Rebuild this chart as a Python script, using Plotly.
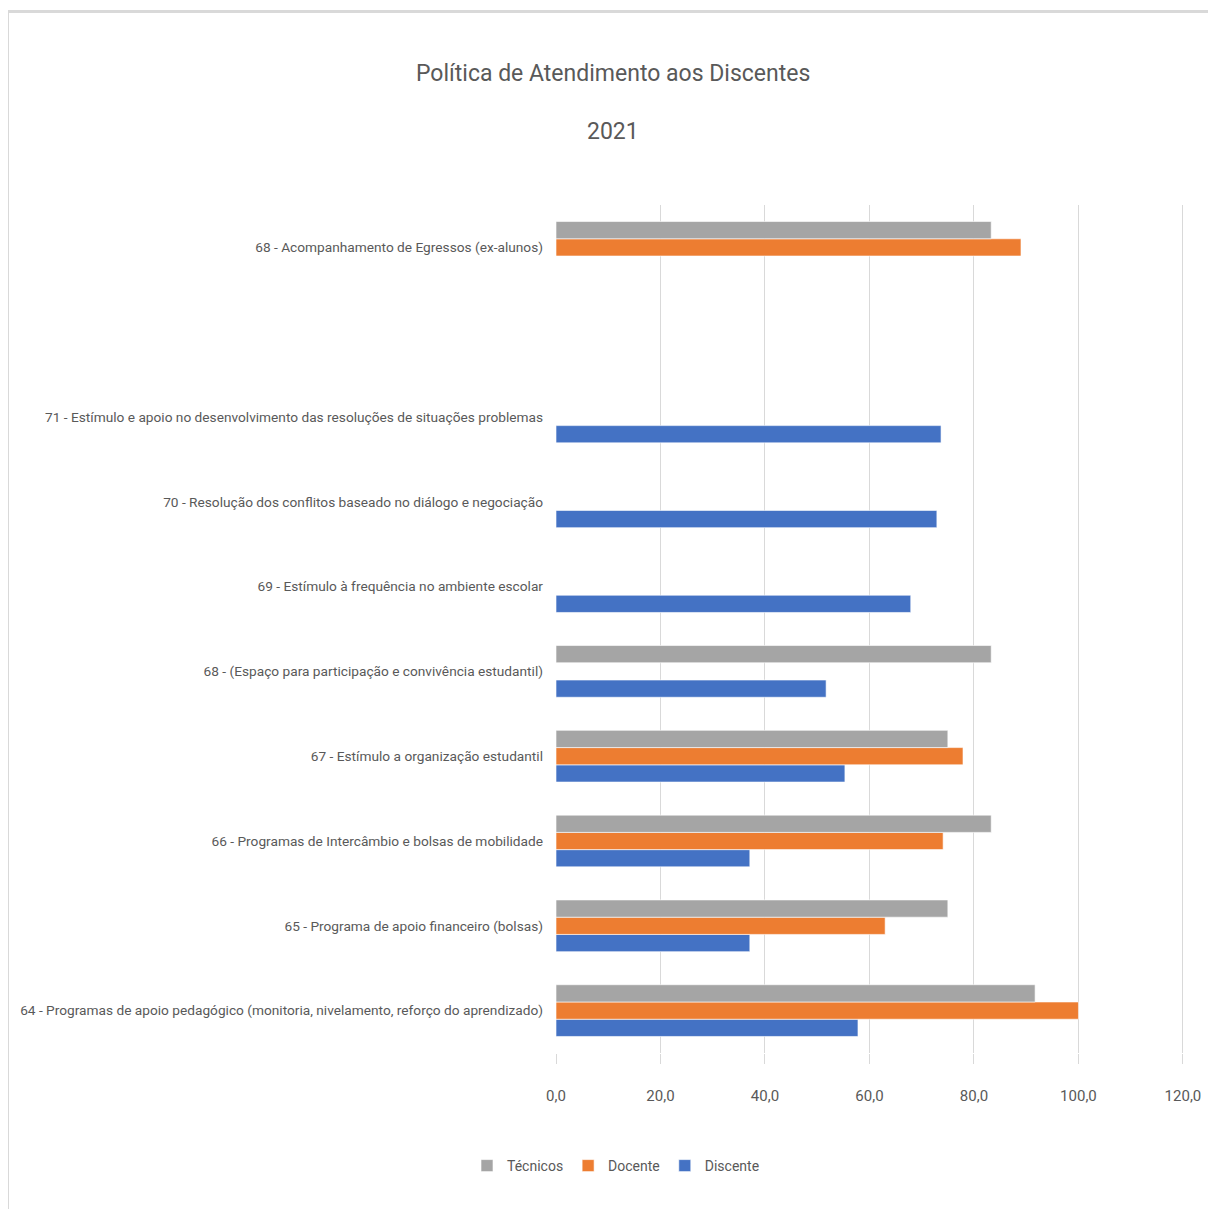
import plotly.graph_objects as go

categories = [
    "64 - Programas de apoio pedagógico (monitoria, nivelamento, reforço do aprendizado)",
    "65 - Programa de apoio financeiro (bolsas)",
    "66 - Programas de Intercâmbio e bolsas de mobilidade",
    "67 - Estímulo a organização estudantil",
    "68 - (Espaço para participação e convivência estudantil)",
    "69 - Estímulo à frequência no ambiente escolar",
    "70 - Resolução dos conflitos baseado no diálogo e negociação",
    "71 - Estímulo e apoio no desenvolvimento das resoluções de situações problemas",
    " ",
    "68 - Acompanhamento de Egressos (ex-alunos)",
]
tecnicos = [91.7, 75.0, 83.3, 75.0, 83.3, None, None, None, None, 83.3]
docente = [100.0, 63.0, 74.1, 77.9, None, None, None, None, None, 89.0]
discente = [57.8, 37.1, 37.1, 55.3, 51.7, 67.9, 72.9, 73.7, None, None]
tick_vals = [0, 20, 40, 60, 80, 100, 120]
tick_text = ["0,0", "20,0", "40,0", "60,0", "80,0", "100,0", "120,0"]
title_line1 = "Política de Atendimento aos Discentes"
title_line2 = "2021"

FONT = "Roboto, Liberation Sans Narrow, sans-serif"
GRAY = "#595959"

fig = go.Figure()
for name, vals, col in [("Discente", discente, "#4472C4"),
                        ("Docente", docente, "#ED7D31"),
                        ("Técnicos", tecnicos, "#A5A5A5")]:
    fig.add_trace(go.Bar(y=categories, x=vals, name=name, orientation="h",
                         marker=dict(color=col, line=dict(color="rgba(255,255,255,0.6)", width=1))))

W, H = 1208, 1209
L, R, T, B = 556, 24, 205, 156
pw, ph = W - L - R, H - T - B

def px_x(x):
    return (x - L) / pw

def px_y(y):
    return (H - B - y) / ph

fig.update_layout(
    width=W, height=H,
    margin=dict(l=L, r=R, t=T, b=B, autoexpand=False),
    paper_bgcolor="white", plot_bgcolor="white",
    barmode="group", bargap=0.39, bargroupgap=0,
    font=dict(family=FONT, color=GRAY),
    annotations=[
        dict(text=title_line1, xref="paper", yref="paper", x=px_x(613), y=px_y(74),
             xanchor="center", yanchor="middle", showarrow=False,
             font=dict(size=23, color=GRAY, family=FONT)),
        dict(text=title_line2, xref="paper", yref="paper", x=px_x(613), y=px_y(132),
             xanchor="center", yanchor="middle", showarrow=False,
             font=dict(size=23, color=GRAY, family=FONT)),
    ],
    legend=dict(orientation="h", x=px_x(616), xanchor="center", y=px_y(1166), yanchor="middle",
                traceorder="reversed", font=dict(size=14, color=GRAY, family=FONT),
                itemwidth=30, tracegroupgap=0),
    xaxis=dict(range=[0, 120.2], tickvals=tick_vals, ticktext=tick_text,
               showgrid=True, gridcolor="#D9D9D9", gridwidth=1,
               zeroline=False, showline=False,
               ticks="outside", ticklen=10, tickcolor="#D9D9D9",
               ticklabelstandoff=19, ticklabeloverflow="allow", automargin=False,
               tickfont=dict(size=15, color=GRAY, family=FONT)),
    yaxis=dict(categoryorder="array", categoryarray=categories, range=[-0.5, 9.5],
               showgrid=False, zeroline=False, showline=False,
               ticklabelstandoff=12, automargin=False,
               tickfont=dict(size=13.7, color=GRAY, family=FONT)),
    shapes=[
        dict(type="line", xref="paper", yref="paper", x0=px_x(8), x1=px_x(1210),
             y0=px_y(11.5), y1=px_y(11.5), line=dict(color="#D9D9D9", width=3)),
        dict(type="line", xref="paper", yref="paper", x0=px_x(8.5), x1=px_x(8.5),
             y0=px_y(11.5), y1=px_y(1212), line=dict(color="#D9D9D9", width=1)),
    ],
)

fig.write_html("out.html")
